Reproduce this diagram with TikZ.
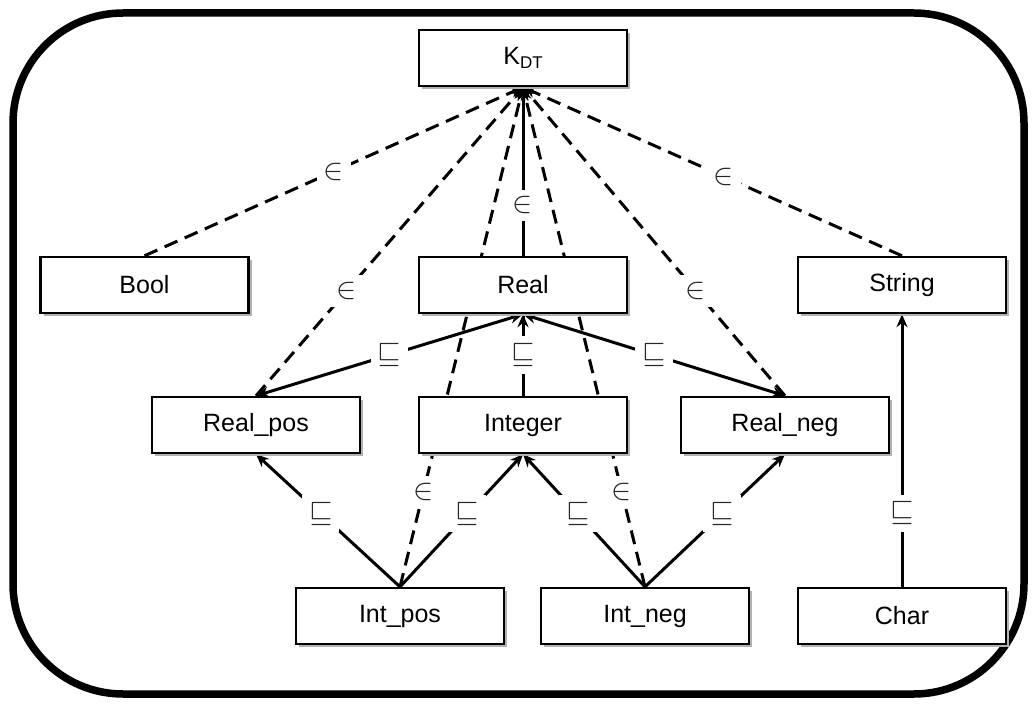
\documentclass[tikz,border=0pt]{standalone}
\usepackage{fontspec}
\setmainfont{Liberation Sans}
\usetikzlibrary{arrows.meta,shadows}
\pgfdeclarelayer{bg}
\pgfsetlayers{bg,main}
\newcommand{\elem}{\scalebox{1.45}{$\in$}}
\newcommand{\subc}{\scalebox{1.45}{$\sqsubseteq$}}
\begin{document}
\begin{tikzpicture}[x=1pt,y=-1pt,
  box/.style={draw, line width=2.4pt, fill=white, minimum width=208pt, minimum height=56pt, inner sep=0pt,
    font=\fontsize{25}{30}\selectfont,
    drop shadow={shadow xshift=3pt, shadow yshift=-3pt, fill=black!30, opacity=1}},
  tip/.style={-{Stealth[length=13pt,width=11pt]}},
  mem/.style={line width=3pt, dash pattern=on 14pt off 8pt, tip},
  sub/.style={line width=3pt, tip},
  bisub/.style={line width=3pt, {Stealth[length=13pt,width=11pt]}-{Stealth[length=13pt,width=11pt]}},
  lab/.style={fill=white, inner sep=7pt, font=\fontsize{20}{24}\selectfont, text=black!85}]
\useasboundingbox (0,0) rectangle (1034,706);
\draw[line width=7.5pt, rounded corners=110pt] (13,13) rectangle (1024,694);

\node[box] (kdt) at (523,58) {K\raisebox{-0.35ex}{\fontsize{17}{20}\selectfont DT}};
\node[box] (bool) at (144.5,285) {Bool};
\node[box] (real) at (523,285) {Real};
\node[box] (string) at (902,285) {String};
\node[box] (realpos) at (256,425) {Real\_pos};
\node[box] (integer) at (523,425) {Integer};
\node[box] (realneg) at (785,425) {Real\_neg};
\node[box] (intpos) at (400,616) {Int\_pos};
\node[box] (intneg) at (645,616) {Int\_neg};
\node[box] (char) at (902,616) {Char};

\begin{pgfonlayer}{bg}
\draw[mem] (integer.north) -- (kdt.south);
\draw[mem] (bool.north) -- node[lab,pos=0.5]{\elem} (kdt.south);
\draw[mem] (string.north) -- node[lab,pos=0.47]{\elem} (kdt.south);
\draw[mem] (real.north) -- node[lab,pos=0.3]{\elem} (kdt.south);
\draw[mem] (realpos.north) -- node[lab,pos=0.34]{\elem} (kdt.south);
\draw[mem] (realneg.north) -- node[lab,pos=0.34]{\elem} (kdt.south);
\draw[mem] (intpos.north) -- node[lab,pos=0.19]{\elem} (kdt.south);
\draw[mem] (intneg.north) -- node[lab,pos=0.19]{\elem} (kdt.south);

\draw[bisub] (realpos.north) -- node[lab,pos=0.5]{\subc} (real.south);
\draw[bisub] (realneg.north) -- node[lab,pos=0.5]{\subc} (real.south);
\draw[sub] (integer.north) -- node[lab,pos=0.5]{\subc} (real.south);
\draw[sub] (intpos.north) -- node[lab,pos=0.55]{\subc} (realpos.south);
\draw[sub] (intpos.north) -- node[lab,pos=0.55]{\subc} (integer.south);
\draw[sub] (intneg.north) -- node[lab,pos=0.55]{\subc} (integer.south);
\draw[sub] (intneg.north) -- node[lab,pos=0.55]{\subc} (realneg.south);
\draw[sub] (char.north) -- node[lab,pos=0.27]{\subc} (string.south);
\end{pgfonlayer}
\end{tikzpicture}
\end{document}
